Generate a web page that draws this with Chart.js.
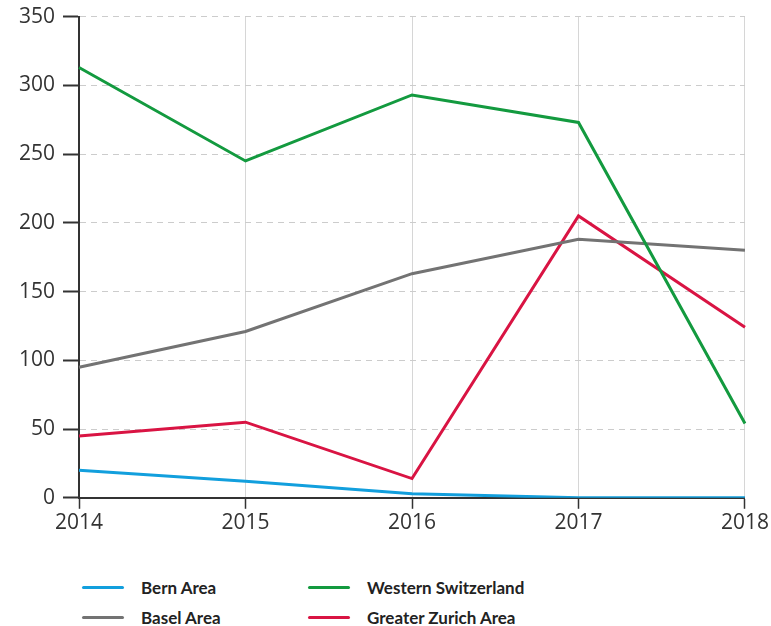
<!DOCTYPE html>
<html>
<head>
<meta charset="utf-8">
<script src="https://cdn.jsdelivr.net/npm/chart.js@4"></script>
<style>
  html, body { margin: 0; padding: 0; background: #fff; }
  body { width: 771px; height: 626px; position: relative; overflow: hidden; font-family: "Open Sans", sans-serif; }
  #chart-box { position: absolute; left: 0; top: -4px; width: 771px; height: 547px; }
  #legend { position: absolute; left: 82px; top: 576px; display: grid; grid-template-columns: 226px 260px; row-gap: 8px; }
  .item { display: flex; align-items: center; height: 22px; font-family: Lato, sans-serif; font-weight: 700; font-size: 17px; color: #222; }
  .swatch { width: 42px; height: 3px; border-radius: 2px; margin-right: 17px; }
</style>
</head>
<body>
<div id="chart-box"><canvas id="chart-canvas"></canvas></div>
<div id="legend"></div>
<script>
const years = ["2014", "2015", "2016", "2017", "2018"];
const bernArea = [20, 12, 3, 0, 0];
const baselArea = [95, 121, 163, 188, 180];
const westernSwitzerland = [313, 245, 293, 273, 54];
const greaterZurichArea = [45, 55, 14, 205, 124];
const yTicks = [0, 50, 100, 150, 200, 250, 300, 350];

const series = [
  { label: "Bern Area", data: bernArea, color: "#129fdd" },
  { label: "Western Switzerland", data: westernSwitzerland, color: "#139a3f" },
  { label: "Basel Area", data: baselArea, color: "#737373" },
  { label: "Greater Zurich Area", data: greaterZurichArea, color: "#d91443" }
];

document.addEventListener("DOMContentLoaded", function () {
  const ctx = document.getElementById("chart-canvas").getContext("2d");

  new Chart(ctx, {
    type: "line",
    data: {
      labels: years,
      datasets: series.map(s => ({
        label: s.label,
        data: s.data,
        borderColor: s.color,
        backgroundColor: s.color,
        borderWidth: 3,
        pointRadius: 0,
        tension: 0
      }))
    },
    options: {
      responsive: true,
      maintainAspectRatio: false,
      animation: false,
      layout: { padding: { top: 2, right: 10, bottom: 5, left: 11 } },
      plugins: { legend: { display: false }, tooltip: { enabled: false } },
      scales: {
        x: {
          offset: false,
          ticks: { color: "#333", font: { family: "Open Sans", size: 21 }, padding: 2, maxRotation: 0 },
          grid: { color: "#d6d6d6", tickColor: "#333", tickLength: 11, lineWidth: 1, tickWidth: 1.5 },
          border: { color: "#333", width: 2 }
        },
        y: {
          min: 0,
          max: 350,
          afterBuildTicks: axis => { axis.ticks = yTicks.map(v => ({ value: v })); },
          ticks: { color: "#333", font: { family: "Open Sans", size: 21 }, padding: 8 },
          grid: { color: "#cccccc", tickColor: "#333", tickLength: 16, lineWidth: 1, tickWidth: 2 },
          border: { color: "#333", width: 2, dash: [6, 5] }
        }
      }
    }
  });

  // legend in the same grid order as the picture
  const legend = document.getElementById("legend");
  [0, 1, 2, 3].forEach(i => {
    const s = series[i];
    const el = document.createElement("div");
    el.className = "item";
    el.innerHTML = '<span class="swatch" style="background:' + s.color + '"></span>' + s.label;
    legend.appendChild(el);
  });
});
</script>
</body>
</html>
